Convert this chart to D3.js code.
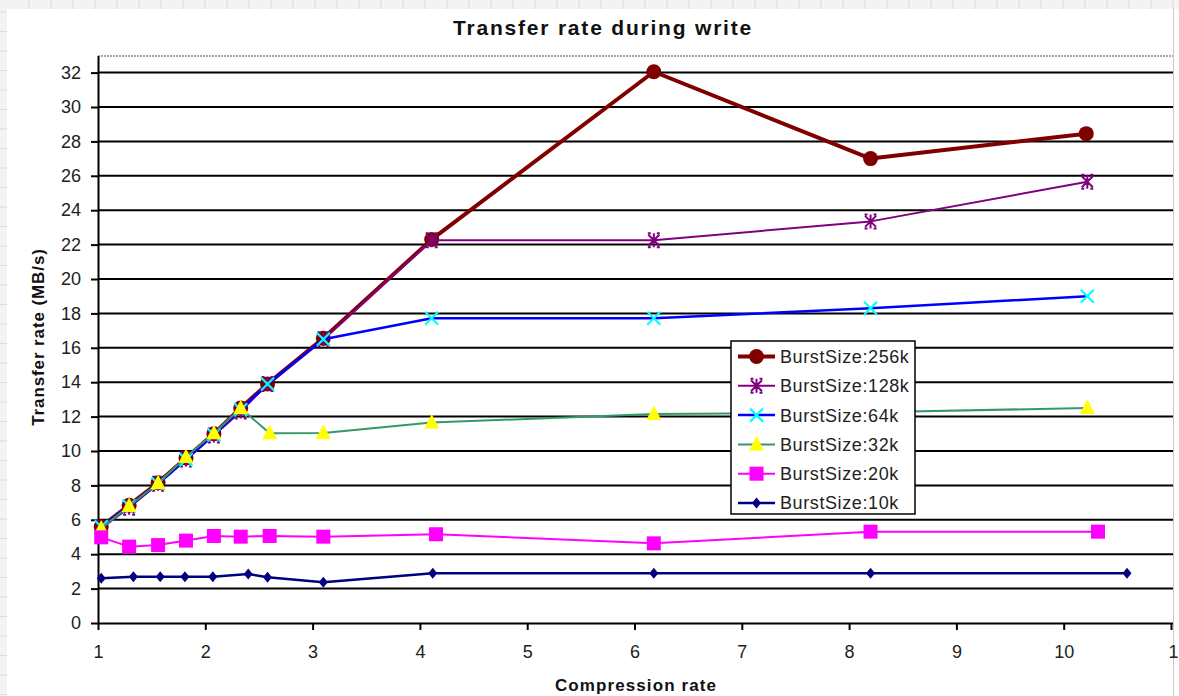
<!DOCTYPE html>
<html>
<head>
<meta charset="utf-8">
<script src="https://cdn.jsdelivr.net/npm/d3@7"></script>
<style>
  html, body { margin: 0; padding: 0; background: #f3f3f3; }
  svg { display: block; font-family: "Liberation Sans", Arial, sans-serif; }
</style>
</head>
<body>
<svg id="chart" width="1179" height="696"></svg>
<script>
// compression rate (x) and transfer rate MB/s (y) per burst size
const x256 = [1.03, 1.29, 1.56, 1.82, 2.08, 2.33, 2.58, 3.10, 4.11, 6.18, 8.20, 10.21];
const y256 = [5.6, 6.85, 8.15, 9.6, 11.0, 12.5, 13.9, 16.55, 22.3, 32.05, 27.0, 28.45];
const x128 = [1.03, 1.29, 1.56, 1.82, 2.08, 2.33, 2.58, 3.10, 4.11, 6.18, 8.20, 10.22];
const y128 = [5.5, 6.7, 8.1, 9.5, 10.9, 12.3, 13.9, 16.5, 22.25, 22.25, 23.35, 25.65];
const x64 = [1.03, 1.29, 1.56, 1.82, 2.08, 2.33, 2.58, 3.10, 4.11, 6.18, 8.20, 10.22];
const y64 = [5.6, 6.8, 8.1, 9.5, 10.95, 12.4, 13.9, 16.5, 17.72, 17.72, 18.3, 19.0];
const x32 = [1.03, 1.29, 1.56, 1.82, 2.08, 2.33, 2.60, 3.10, 4.11, 6.18, 8.20, 10.22];
const y32 = [5.5, 6.8, 8.12, 9.65, 11.03, 12.48, 11.03, 11.05, 11.65, 12.15, 12.25, 12.5];
const x20 = [1.03, 1.29, 1.56, 1.82, 2.08, 2.33, 2.60, 3.10, 4.15, 6.18, 8.20, 10.32];
const y20 = [4.98, 4.44, 4.53, 4.79, 5.06, 5.02, 5.06, 5.02, 5.16, 4.63, 5.31, 5.31];
const x10 = [1.03, 1.33, 1.58, 1.81, 2.07, 2.40, 2.58, 3.10, 4.12, 6.18, 8.20, 10.59];
const y10 = [2.6, 2.69, 2.69, 2.69, 2.69, 2.85, 2.66, 2.37, 2.89, 2.89, 2.89, 2.89];

const seriesNames = ["BurstSize:256k", "BurstSize:128k", "BurstSize:64k", "BurstSize:32k", "BurstSize:20k", "BurstSize:10k"];
const xTicks = [1, 2, 3, 4, 5, 6, 7, 8, 9, 10, 11];
const yTicks = [0, 2, 4, 6, 8, 10, 12, 14, 16, 18, 20, 22, 24, 26, 28, 30, 32];

const series = [
  { name: seriesNames[0], xs: x256, ys: y256, line: "#800000", width: 4, marker: "circle", mcol: "#800000" },
  { name: seriesNames[1], xs: x128, ys: y128, line: "#800080", width: 2, marker: "star", mcol: "#800080" },
  { name: seriesNames[2], xs: x64, ys: y64, line: "#0000ff", width: 2.5, marker: "x", mcol: "#00ffff" },
  { name: seriesNames[3], xs: x32, ys: y32, line: "#339966", width: 2, marker: "triangle", mcol: "#ffff00" },
  { name: seriesNames[4], xs: x20, ys: y20, line: "#ff00ff", width: 2, marker: "square", mcol: "#ff00ff" },
  { name: seriesNames[5], xs: x10, ys: y10, line: "#000080", width: 2.5, marker: "diamond", mcol: "#000080" }
];

const svg = d3.select("#chart");
const W = 1179, H = 696;

// spreadsheet behind the chart
const bg = svg.append("g");
bg.append("rect").attr("width", W).attr("height", H).attr("fill", "#f3f3f3");
d3.range(29, W, 22).forEach(x => {
  bg.append("line").attr("x1", x).attr("x2", x).attr("y1", 0).attr("y2", 9)
    .attr("stroke", "#dadada");
});
d3.range(12, H, 19.5).forEach(y => {
  bg.append("line").attr("x1", 0).attr("x2", 7).attr("y1", y).attr("y2", y)
    .attr("stroke", "#dadada");
});
svg.append("rect").attr("x", 7).attr("y", 9).attr("width", W - 7).attr("height", H - 9).attr("fill", "#fff");

const x = d3.scaleLinear().domain([1, 11]).range([98, 1171]);
const y = d3.scaleLinear().domain([0, 33]).range([623, 55.4]);
const plotRight = 1173;

// gridlines
svg.append("g")
  .selectAll("line")
  .data(yTicks.filter(d => d > 0))
  .join("line")
  .attr("x1", x(1)).attr("x2", plotRight)
  .attr("y1", d => y(d)).attr("y2", d => y(d))
  .attr("stroke", "#000").attr("stroke-width", 2);

// plot top/right border
svg.append("line").attr("x1", x(1)).attr("x2", plotRight).attr("y1", 56).attr("y2", 56)
  .attr("stroke", "#8a8a8a").attr("stroke-width", 1.5).attr("stroke-dasharray", "2,1");
svg.append("line").attr("x1", plotRight + 0.5).attr("x2", plotRight + 0.5).attr("y1", 9).attr("y2", H)
  .attr("stroke", "#c8c8c8").attr("stroke-width", 1);

// axes
const yAxis = svg.append("g")
  .attr("transform", `translate(${x(1)},0)`)
  .call(d3.axisLeft(y).tickValues(yTicks).tickSize(7).tickPadding(10).tickSizeOuter(0));
const xAxis = svg.append("g")
  .attr("transform", `translate(0,${y(0)})`)
  .call(d3.axisBottom(x).tickValues(xTicks).tickSize(7).tickPadding(15).tickSizeOuter(0)
    .tickFormat(d => d === 11 ? "1" : d));

[yAxis, xAxis].forEach(a => {
  a.select(".domain").attr("stroke", "#000").attr("stroke-width", 2);
  a.selectAll(".tick line").attr("stroke", "#000").attr("stroke-width", 2);
  a.selectAll(".tick text")
    .attr("fill", "#222")
    .style("font-size", "18px")
    .style("font-family", "Liberation Sans, Arial, sans-serif");
});
yAxis.select(".domain").attr("d", `M0.5,${y(0)}V56`);
xAxis.select(".domain").attr("d", `M${x(1)},0.5H${plotRight}`);
// the last label is cut by the window edge
xAxis.selectAll(".tick").filter(d => d === 11).select("text").attr("text-anchor", "start").attr("dx", "-3");

// markers
function drawMarker(g, type, color) {
  if (type === "circle") {
    g.append("circle").attr("r", 7.5).attr("fill", color);
  } else if (type === "star") {
    g.append("path").attr("d", "M-5.5,-5.5L5.5,5.5M-5.5,5.5L5.5,-5.5M0,-7V7M-6,-7H-3M3,-7H6M-6,7H-3M3,7H6")
      .attr("stroke", color).attr("stroke-width", 2).attr("fill", "none");
  } else if (type === "x") {
    g.append("path").attr("d", "M-6.5,-6.5L6.5,6.5M-6.5,6.5L6.5,-6.5")
      .attr("stroke", color).attr("stroke-width", 2.2).attr("fill", "none");
  } else if (type === "triangle") {
    g.append("path").attr("d", "M0,-8.5L7.5,6L-7.5,6Z").attr("fill", color);
  } else if (type === "square") {
    g.append("rect").attr("x", -7).attr("y", -7).attr("width", 14).attr("height", 14).attr("fill", color);
  } else if (type === "diamond") {
    g.append("path").attr("d", "M0,-5.5L4.5,0L0,5.5L-4.5,0Z").attr("fill", color);
  }
}

const line = d3.line().x(d => x(d[0])).y(d => y(d[1]));

series.forEach(s => {
  const pts = s.xs.map((v, i) => [v, s.ys[i]]);
  const g = svg.append("g");
  g.append("path")
    .attr("d", line(pts))
    .attr("fill", "none")
    .attr("stroke", s.line)
    .attr("stroke-width", s.width)
    .attr("stroke-linejoin", "round");
  pts.forEach(p => {
    const m = g.append("g").attr("transform", `translate(${x(p[0])},${y(p[1])})`);
    drawMarker(m, s.marker, s.mcol);
  });
});

// legend
const legend = svg.append("g").attr("transform", "translate(731,341)");
legend.append("rect").attr("width", 184).attr("height", 173)
  .attr("fill", "#fff").attr("stroke", "#000").attr("stroke-width", 1.5);
series.forEach((s, i) => {
  const cy = 15.5 + i * 29.3;
  legend.append("line").attr("x1", 7).attr("x2", 44).attr("y1", cy).attr("y2", cy)
    .attr("stroke", s.line).attr("stroke-width", s.width);
  const m = legend.append("g").attr("transform", `translate(25.5,${cy})`);
  drawMarker(m, s.marker, s.mcol);
  legend.append("text")
    .attr("x", 49).attr("y", cy + 6.4)
    .attr("fill", "#222")
    .style("font-size", "18px")
    .style("letter-spacing", "0.6px")
    .text(s.name);
});

// titles
svg.append("text")
  .attr("x", 603).attr("y", 35)
  .attr("text-anchor", "middle")
  .attr("font-weight", 700)
  .style("font-size", "21px")
  .style("letter-spacing", "1.8px")
  .attr("fill", "#111")
  .text("Transfer rate during write");

svg.append("text")
  .attr("x", 636).attr("y", 691)
  .attr("text-anchor", "middle")
  .attr("font-weight", 700)
  .style("font-size", "17px")
  .style("letter-spacing", "1.1px")
  .attr("fill", "#111")
  .text("Compression rate");

svg.append("text")
  .attr("transform", "translate(44,337) rotate(-90)")
  .attr("text-anchor", "middle")
  .attr("font-weight", 700)
  .style("font-size", "17px")
  .style("letter-spacing", "0.9px")
  .attr("fill", "#111")
  .text("Transfer rate (MB/s)");
</script>
</body>
</html>
